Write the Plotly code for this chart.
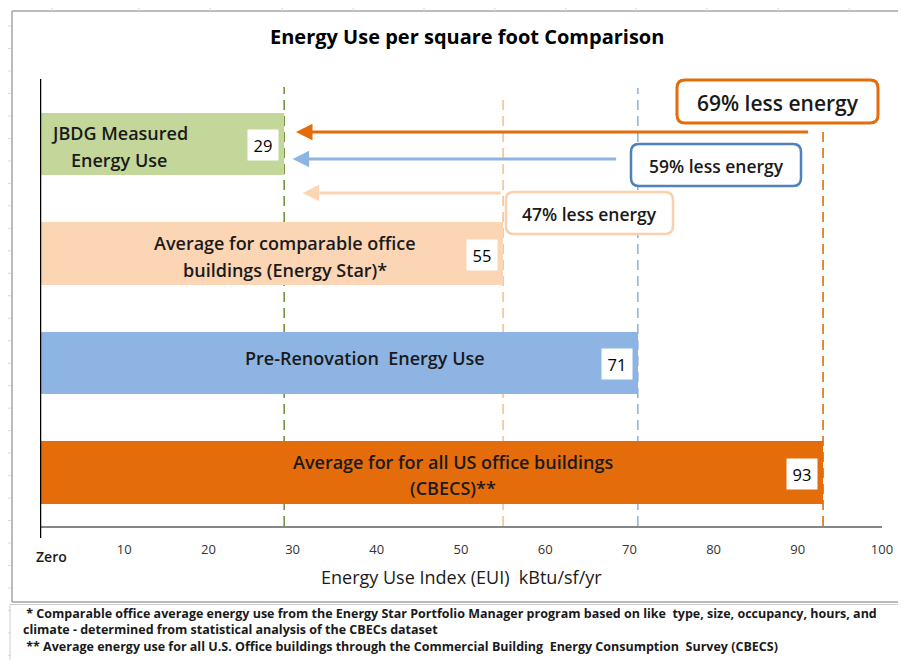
import plotly.graph_objects as go

# ---------------- data ----------------
categories = [
    "JBDG Measured Energy Use",
    "Average for comparable office buildings (Energy Star)*",
    "Pre-Renovation  Energy Use",
    "Average for for all US office buildings (CBECS)**",
]
label_lines = [
    ["JBDG Measured", "Energy Use"],
    ["Average for comparable office", "buildings (Energy Star)*"],
    ["Pre-Renovation  Energy Use"],
    ["Average for for all US office buildings", "(CBECS)**"],
]
eui = [29, 55, 71, 93]
bar_colors = ["#c4d79b", "#fcd5b5", "#8db4e2", "#e46c0a"]
ref_line_colors = ["#77933c", "#fac090", "#95b3d7", "#e46c0a"]

savings_text = ["69% less energy", "59% less energy", "47% less energy"]
arrow_tail = [91.4, 68.6, 54.9]
arrow_head = [30.4, 30.0, 31.2]
arrow_colors = ["#e46c0a", "#8db4e2", "#fcd5b4"]
box_border_colors = ["#e46c0a", "#4f81bd", "#fbd0ac"]

tick_vals = [10, 20, 30, 40, 50, 60, 70, 80, 90, 100]
tick_text = ["10", "20", "30", "40", "50", "60", "70", "80", "90", "100"]

title_text = "Energy Use per square foot Comparison"
axis_title = "Energy Use Index (EUI)  kBtu/sf/yr"
footnotes = [
    "\u00a0* Comparable office average energy use from the Energy Star Portfolio Manager program based on like  type, size, occupancy, hours, and",
    "climate - determined from statistical analysis of the CBECs dataset",
    "\u00a0** Average energy use for all U.S. Office buildings through the Commercial Building  Energy Consumption  Survey (CBECS)",
]

# ---------------- layout helpers (pixel geometry of the page) ----------------
W, H = 906, 660
OFF = 8  # page body margin
PX_L, PX_R, PX_T, PX_B = 40, 882, 70, 526
ROW0, ROW_STEP = 144, 109.5
FONT = "Open Sans"


def dy(py):
    return (py - ROW0) / ROW_STEP


def pxp(px):
    return (px - PX_L) / (PX_R - PX_L)


def pyp(py):
    return (PX_B - py) / (PX_B - PX_T)


rows = list(range(len(categories)))

fig = go.Figure()
fig.add_trace(go.Bar(
    x=eui, y=rows, orientation="h", width=0.57,
    marker=dict(color=bar_colors, line=dict(width=0)),
    hoverinfo="skip", showlegend=False,
))

shapes = []
annotations = []

# reference dashed lines behind bars
line_tops = [87, 97, 88, 127]
for v, c, top in zip(eui, ref_line_colors, line_tops):
    shapes.append(dict(type="line", xref="x", yref="paper", x0=v, x1=v,
                       y0=pyp(PX_B), y1=pyp(top), layer="below",
                       line=dict(color=c, width=1.6, dash="10px,6px")))

# black vertical axis line
shapes.append(dict(type="line", xref="x", yref="paper", x0=0, x1=0,
                   y0=pyp(538), y1=pyp(79), line=dict(color="#000000", width=2.5)))


def rounded_box(x0, y0, x1, y1, r, color, width):
    pts = lambda px, py: f"{pxp(px):.5f},{pyp(py):.5f}"
    path = (f"M {pts(x0 + r, y0)} L {pts(x1 - r, y0)} Q {pts(x1, y0)} {pts(x1, y0 + r)} "
            f"L {pts(x1, y1 - r)} Q {pts(x1, y1)} {pts(x1 - r, y1)} "
            f"L {pts(x0 + r, y1)} Q {pts(x0, y1)} {pts(x0, y1 - r)} "
            f"L {pts(x0, y0 + r)} Q {pts(x0, y0)} {pts(x0 + r, y0)} Z")
    return dict(type="path", xref="paper", yref="paper", path=path,
                fillcolor="white", line=dict(color=color, width=width))


# savings boxes
box_px = [(677, 80, 878, 123), (631, 144, 801, 186), (506, 192, 673, 234)]
box_widths = [3, 2.5, 2.5]
box_font = [21, 17.5, 17.5]
for (x0, y0, x1, y1), c, w, t, fs in zip(box_px, box_border_colors, box_widths, savings_text, box_font):
    shapes.append(rounded_box(x0, y0, x1, y1, 8, c, w))
    annotations.append(dict(xref="paper", yref="paper", x=pxp((x0 + x1) / 2), y=pyp((y0 + y1) / 2 + 1),
                            text=t, showarrow=False, xanchor="center", yanchor="middle",
                            font=dict(family=FONT, size=fs, color="#1a1a1a", weight=600)))

# arrows
arrow_y = [132, 159, 193]
for tail, head, c, ypx in zip(arrow_tail, arrow_head, arrow_colors, arrow_y):
    annotations.append(dict(xref="x", yref="y", axref="x", ayref="y",
                            x=head, y=dy(ypx), ax=tail, ay=dy(ypx), text="",
                            showarrow=True, arrowhead=2, arrowsize=1.1, arrowwidth=3,
                            arrowcolor=c, standoff=0))

# bar labels inside bars
label_pos = [
    (119, [133, 160]),
    (285, [243, 270]),
    (365, [358]),
    (453, [462, 488]),
]
for lines, (cx, ys) in zip(label_lines, label_pos):
    for ln, ypx in zip(lines, ys):
        annotations.append(dict(xref="paper", yref="paper", x=pxp(cx), y=pyp(ypx), text=ln,
                                showarrow=False, xanchor="center", yanchor="middle",
                                font=dict(family=FONT, size=18, color="#1a1a1a", weight=600)))

# value labels (white boxes at bar ends)
for i, v in enumerate(eui):
    annotations.append(dict(xref="x", yref="y", x=v, y=i, text=str(v), showarrow=False,
                            xanchor="right", yanchor="middle", xshift=-5, yshift=-1,
                            width=30, height=30, bgcolor="white", borderpad=0,
                            font=dict(family=FONT, size=16.5, color="#000000")))

# "Zero" label
annotations.append(dict(xref="x", yref="paper", x=0, y=pyp(556), text="Zero", showarrow=False,
                        xanchor="left", yanchor="middle", xshift=-6,
                        font=dict(family=FONT, size=14, color="#1a1a1a", weight=600)))

# axis title
annotations.append(dict(xref="paper", yref="paper", x=pxp(461), y=pyp(577), text=axis_title,
                        showarrow=False, xanchor="center", yanchor="middle",
                        font=dict(family=FONT, size=18, color="#1a1a1a", weight=500)))

# title
annotations.append(dict(xref="paper", yref="paper", x=pxp(467), y=pyp(36), text=title_text,
                        showarrow=False, xanchor="center", yanchor="middle",
                        font=dict(family=FONT, size=20, color="#000000", weight=700)))

# footnotes (one text block)
annotations.append(dict(xref="paper", yref="paper", x=pxp(21), y=pyp(630), text="<br>".join(footnotes),
                        showarrow=False, xanchor="left", yanchor="middle", align="left",
                        font=dict(family=FONT, size=12.5, color="#1a1a1a", weight=700)))

# frames (spreadsheet look)
frame = "#a6a6a6"
light = "#d9d9d9"
shapes.append(dict(type="line", xref="paper", yref="paper", x0=pxp(12), x1=pxp(W + 5),
                   y0=pyp(11), y1=pyp(11), line=dict(color=frame, width=1.5)))
shapes.append(dict(type="line", xref="paper", yref="paper", x0=pxp(12), x1=pxp(12),
                   y0=pyp(11), y1=pyp(602), line=dict(color=frame, width=1.5)))
shapes.append(dict(type="line", xref="paper", yref="paper", x0=pxp(12), x1=pxp(W + 5),
                   y0=pyp(602), y1=pyp(602), line=dict(color=frame, width=1.5)))
shapes.append(dict(type="line", xref="paper", yref="paper", x0=pxp(10), x1=pxp(W + 5),
                   y0=pyp(604.5), y1=pyp(604.5), line=dict(color="#cfcfcf", width=1)))
shapes.append(dict(type="line", xref="paper", yref="paper", x0=pxp(10), x1=pxp(10),
                   y0=pyp(604.5), y1=pyp(H + 5), line=dict(color="#cfcfcf", width=1)))
for gx in [52, 139, 210, 282, 353, 424, 495, 566, 636, 707, 778, 849]:
    shapes.append(dict(type="line", xref="paper", yref="paper", x0=pxp(gx), x1=pxp(gx),
                       y0=pyp(0), y1=pyp(11), line=dict(color=light, width=1)))
gy = 26.0
while gy < H:
    shapes.append(dict(type="line", xref="paper", yref="paper", x0=pxp(0), x1=pxp(11),
                       y0=pyp(gy), y1=pyp(gy), line=dict(color=light, width=1)))
    gy += 22.48

fig.update_layout(
    width=W - OFF, height=H - OFF,
    margin=dict(l=PX_L - OFF, r=W - PX_R, t=PX_T - OFF, b=H - PX_B, pad=0),
    paper_bgcolor="white", plot_bgcolor="white",
    showlegend=False, bargap=0,
    font=dict(family=FONT, color="#1a1a1a"),
    xaxis=dict(range=[0, 100], tickvals=tick_vals, ticktext=tick_text, ticks="",
               showgrid=False, zeroline=False, showline=True, linecolor="#868686",
               linewidth=1.5, tickfont=dict(family=FONT, size=13, color="#333333"),
               ticklabelstandoff=11, fixedrange=True),
    yaxis=dict(range=[dy(PX_B), dy(PX_T)], showticklabels=False, showgrid=False,
               zeroline=False, showline=False, ticks="", fixedrange=True),
    shapes=shapes,
    annotations=annotations,
)

fig.write_html("out.html")
